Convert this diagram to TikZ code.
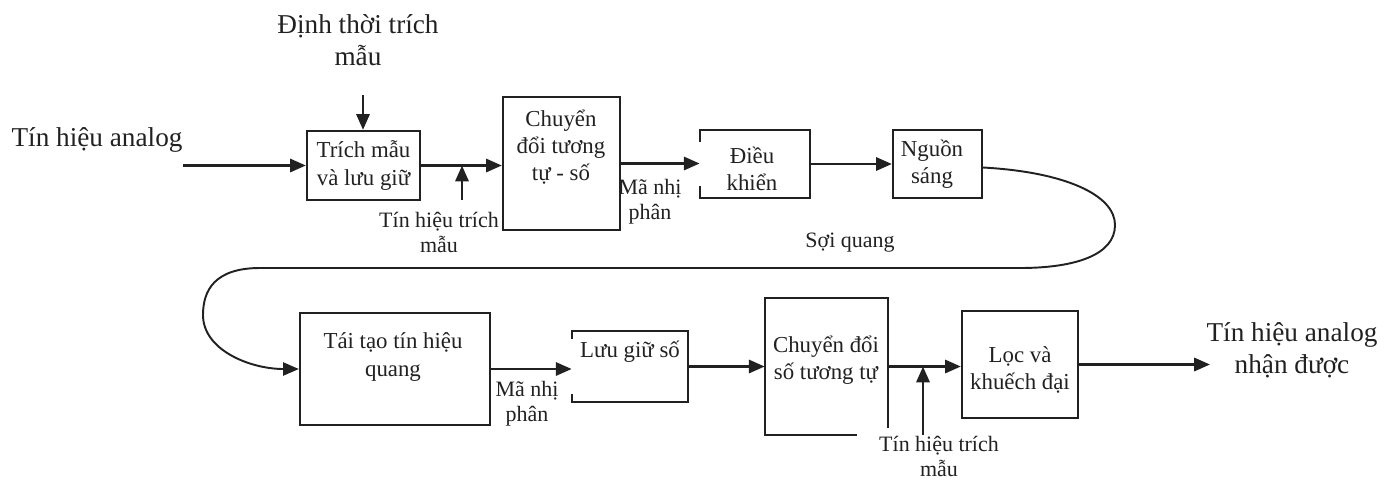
\documentclass[tikz,border=0pt]{standalone}
\usepackage{fontspec}
\setmainfont{Liberation Serif}
\usepackage{tikz}
\usetikzlibrary{positioning,calc,arrows.meta}
\definecolor{inkgray}{rgb}{0.13,0.13,0.13}

\tikzset{
  blk/.style={draw=inkgray, line width=1.3pt, inner sep=0pt},
  blkopen/.style={inner sep=0pt},
  blkline/.style={draw=inkgray, line width=1.3pt},
  boxtext/.style={align=center, text=inkgray, font=\fontsize{13}{15.5}\selectfont, inner sep=0pt},
  bigtext/.style={align=center, text=inkgray, font=\fontsize{15.5}{18}\selectfont, inner sep=0pt},
  smalltext/.style={align=center, text=inkgray, font=\fontsize{12.5}{14.2}\selectfont, inner sep=0pt},
  sig/.style={draw=inkgray, line width=1.5pt, -{Triangle[length=9pt,width=7.5pt]}},
  fiber/.style={draw=inkgray, line width=1.1pt, -{Triangle[length=9pt,width=7.5pt]}},
}

\begin{document}
\begin{tikzpicture}[x=0.02cm,y=-0.02cm]
\useasboundingbox (0,0) rectangle (1392,491);

% transmitter
\node[bigtext] (ain) at (97,140) {Tín hiệu analog};
\coordinate (ainend) at (183,165.5);
\node[bigtext] (clk) at (358,40) {Định thời trích\\mẫu};
\coordinate (clkend) at (363,95);

\node[blk, minimum width=2.26cm, minimum height=1.38cm] (sh) at (363.5,165.5) {};
\node[boxtext] at (sh) {Trích mẫu\\và lưu giữ};

\node[blk, minimum width=2.34cm, minimum height=2.66cm] (adc) at (561.5,163.5) {};
\node[boxtext] at (561,147) {Chuyển\\đổi tương\\tự - số};

\node[blkopen, minimum width=2.2cm, minimum height=1.36cm] (ctrl) at (755,164) {};
\node[boxtext] at (752,169) {Điều\\khiển};

\node[blk, minimum width=1.78cm, minimum height=1.36cm] (src) at (937.5,164) {};
\node[boxtext] at (932,164) {Nguồn\\sáng};

\node[smalltext] (ts1) at (439,232) {Tín hiệu trích\\mẫu};
\coordinate (ts1end) at (462,200);
\node[smalltext] (bin1) at (650,202) {Mã nhị\\phân};
\node[smalltext] (fib) at (850,243) {Sợi quang};

% receiver
\node[blk, minimum width=3.8cm, minimum height=2.24cm] (rx) at (395,369) {};
\node[boxtext] at (393,357) {Tái tạo tín hiệu\\quang};

\node[blkopen, minimum width=2.32cm, minimum height=1.42cm] (mem) at (630,366.5) {};
\node[boxtext] at (630,352) {Lưu giữ số};

\node[blkopen, minimum width=2.46cm, minimum height=2.74cm] (dac) at (826.5,366.5) {};
\node[boxtext] at (826,360) {Chuyển đổi\\số tương tự};

\node[blk, minimum width=2.32cm, minimum height=2.14cm] (filt) at (1020,364.5) {};
\node[boxtext] at (1020,370) {Lọc và\\khuếch đại};

\node[smalltext] (bin2) at (527,404) {Mã nhị\\phân};
\node[smalltext] (ts2) at (939,456) {Tín hiệu trích\\mẫu};
\coordinate (ts2end) at (923,435);
\node[bigtext] (aout) at (1292,350) {Tín hiệu analog\\nhận được};
\coordinate (aoutend) at (1210,364.5);

% open sides
\draw[blkline] ([yshift=-7pt]ctrl.north west) -- (ctrl.north west) -- (ctrl.north east)
  -- (ctrl.south east) -- (ctrl.south west) -- ([yshift=7pt]ctrl.south west);
\draw[blkline] ([yshift=-4.5pt]mem.north west) -- (mem.north west) -- (mem.north east)
  -- (mem.south east) -- (mem.south west) -- ([yshift=4.5pt]mem.south west);
\draw[blkline] ([yshift=4pt]dac.south east) -- (dac.north east) -- (dac.north west)
  -- (dac.south west) -- ([xshift=-18pt]dac.south east);

% signal path
\draw[sig] (ainend) -- (sh.west);
\draw[sig] (clkend) -- (clkend |- sh.north);
\draw[sig] (sh.east) -- (sh.east -| adc.west);
\draw[sig] (ts1end) -- (ts1end |- sh.east);
\draw[sig] (adc.east) -- (adc.east -| ctrl.west);
\draw[sig] (ctrl.east) -- (ctrl.east -| src.west);
\draw[fiber] ([yshift=-2pt]src.east) .. controls (1065,172) and (1115,195) .. (1115,225)
  .. controls (1115,255) and (1075,268) .. (1020,268) -- (260,268)
  .. controls (215,268) and (203,290) .. (203,315)
  .. controls (203,350) and (250,369) .. (rx.west);
\draw[sig] (rx.east) -- (rx.east -| mem.west);
\draw[sig] (mem.east) -- (mem.east -| dac.west);
\draw[sig] (dac.east) -- (dac.east -| filt.west);
\draw[sig] (ts2end) -- (ts2end |- dac.east);
\draw[sig] (filt.east) -- (aoutend);
\end{tikzpicture}
\end{document}
